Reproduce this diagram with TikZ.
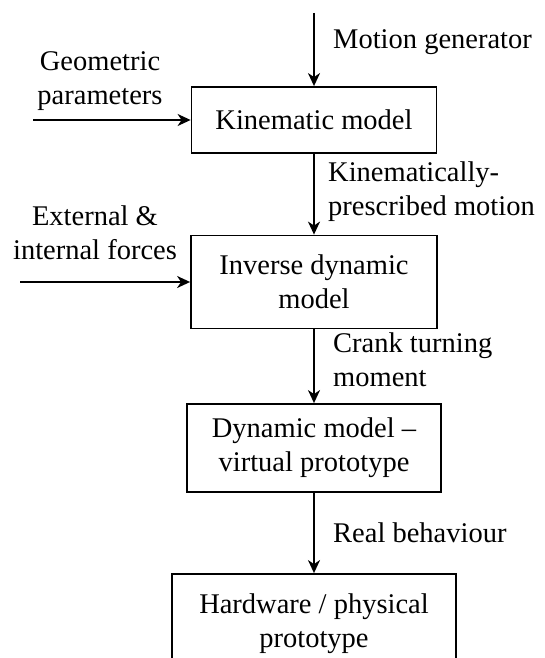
\documentclass[tikz,border=0pt]{standalone}
\usepackage{fontspec}
\setmainfont{Liberation Serif}
\usetikzlibrary{arrows.meta}
\begin{document}
\begin{tikzpicture}[x=1pt,y=-1pt,
  txt/.style={font=\fontsize{28.5}{34}\selectfont, inner sep=0pt},
  box/.style={txt, draw, line width=1.8pt, align=center},
  lbl/.style={txt},
  arr/.style={line width=1.8pt, -{Stealth[length=13pt,width=12pt,inset=4pt]}}]
\clip (0,0) rectangle (544,658);
\fill[white] (0,0) rectangle (544,658);
% boxes
\node[box, minimum width=245pt, minimum height=66pt] (kin) at (314,120) {Kinematic model};
\node[box, minimum width=246pt, minimum height=93pt] (inv) at (314,282) {Inverse dynamic\\model};
\node[box, minimum width=254pt, minimum height=88pt] (dyn) at (314,448) {Dynamic model –\\virtual prototype};
\node[box, minimum width=284pt, minimum height=100pt] (hw) at (314,624) {Hardware / physical\\prototype};
% labels
\node[lbl, anchor=base west] (mg) at (333,49) {Motion generator};
\node[lbl, align=center, anchor=base] (gp) at (100,105) {Geometric\\parameters};
\node[lbl, align=left, anchor=base west] (kp) at (328,215) {Kinematically-\\prescribed motion};
\node[lbl, align=center, anchor=base] (ef) at (95,259) {External \&\\internal forces};
\node[lbl, align=left, anchor=base west] (ct) at (333,386) {Crank turning\\moment};
\node[lbl, anchor=base west] (rb) at (333,542) {Real behaviour};
% connectors
\coordinate (topin) at (314,13);
\coordinate (gpin) at (33,120);
\coordinate (efin) at (20,282);
\draw[arr] (topin) -- (kin.north);
\draw[arr] (gpin) -- (kin.west);
\draw[arr] (kin.south) -- (inv.north);
\draw[arr] (efin) -- (inv.west);
\draw[arr] (inv.south) -- (dyn.north);
\draw[arr] (dyn.south) -- (hw.north);
\end{tikzpicture}
\end{document}
